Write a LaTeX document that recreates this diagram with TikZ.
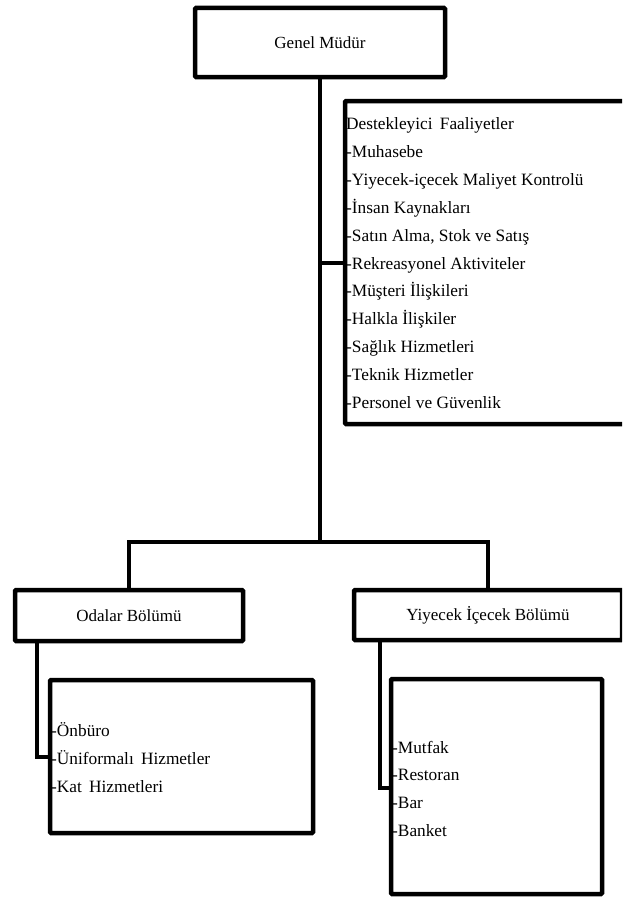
\documentclass[tikz,border=0pt]{standalone}
\usepackage{fontspec}
\setmainfont{Liberation Serif}
\begin{document}
\begin{tikzpicture}[x=1pt,y=-1pt,
					box/.style={shape=rectangle, draw, line width=4.5, rounded corners=1, fill=white, inner sep=0, font=\fontsize{17}{20}\selectfont},
					item/.style={anchor=base west, inner sep=0, font=\fontsize{17.3}{20}\selectfont},
					conn/.style={line width=4, line join=miter}
					]
	\clip (0,0) rectangle (622,899); %page
	
	%boxes-------------------------------------------------
	\node[box, minimum width=250, minimum height=69] (gm) at (320,42.5) {Genel Müdür}; %general manager
	\node[box, minimum width=300, minimum height=323] (destek) at (495,262.5) {}; %support box
	\node[box, minimum width=228, minimum height=51] (oda) at (129,615.5) {Odalar Bölümü}; %rooms
	\node[box, minimum width=268, minimum height=50] (yiy) at (488,615) {Yiyecek İçecek Bölümü}; %food and beverage
	\node[box, minimum width=263, minimum height=153] (odalist) at (181.5,756.5) {}; %rooms list box
	\node[box, minimum width=211, minimum height=215] (yiylist) at (496.5,786.5) {}; %f&b list box
	
	%support list (baselines)------------------------------
	\node[item] (d0) at (346,129) {Destekleyici\, Faaliyetler}; %title
	\node[item] (d1) at (346,157) {-Muhasebe};
	\node[item] (d2) at (346,185) {-Yiyecek-içecek Maliyet Kontrolü};
	\node[item] (d3) at (346,213) {-İnsan Kaynakları};
	\node[item] (d4) at (346,241) {-Satın Alma, Stok ve Satış};
	\node[item] (rek) at (346,269) {-Rekreasyonel Aktiviteler};
	\node[item] (d6) at (346,296) {-Müşteri İlişkileri};
	\node[item] (d7) at (346,324) {-Halkla İlişkiler};
	\node[item] (d8) at (346,352) {-Sağlık Hizmetleri};
	\node[item] (d9) at (346,380) {-Teknik Hizmetler};
	\node[item] (d10) at (346,408) {-Personel ve Güvenlik};
	
	%rooms list--------------------------------------------
	\node[item] (o1) at (51,736) {-Önbüro};
	\node[item] (o2) at (51,764) {-Üniformalı\, Hizmetler};
	\node[item] (o3) at (51,792) {-Kat\, Hizmetleri};
	
	%f&b list----------------------------------------------
	\node[item] (y1) at (392,753) {-Mutfak};
	\node[item] (y2) at (392,780) {-Restoran};
	\node[item] (y3) at (392,808) {-Bar};
	\node[item] (y4) at (392,836) {-Banket};
	
	%connectors--------------------------------------------
	\coordinate (split) at (320,542); %branch point
	\coordinate (odaknee) at (37,757); %rooms knee
	\coordinate (yiyknee) at (380,788); %f&b knee
	\draw[conn] (gm.south) -- (split); %main stem
	\draw[conn] (gm.south |- 0,263) -- (destek.west |- 0,263); %to support
	\draw[conn] (oda.north) |- (split) -| (yiy.north); %to departments
	\draw[conn] (oda.south -| odaknee) -- (odaknee) -- (odalist.west |- odaknee); %rooms to list
	\draw[conn] (yiy.south -| yiyknee) -- (yiyknee) -- (yiylist.west |- yiyknee); %f&b to list
\end{tikzpicture}
\end{document}
